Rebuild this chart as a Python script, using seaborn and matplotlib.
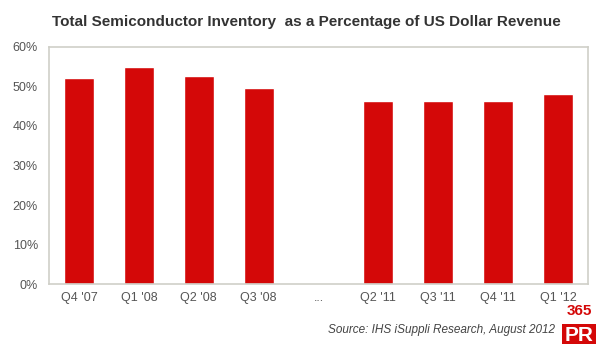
import numpy as np
import pandas as pd
import matplotlib
matplotlib.use("Agg")
import matplotlib.pyplot as plt
import seaborn as sns

categories = ["Q4 '07", "Q1 '08", "Q2 '08", "Q3 '08", "...", "Q2 '11", "Q3 '11", "Q4 '11", "Q1 '12"]
values = [52.1, 54.9, 52.7, 49.5, np.nan, 46.4, 46.4, 46.4, 48.0]
yticks = [0, 10, 20, 30, 40, 50, 60]

df = pd.DataFrame({"quarter": categories, "pct": values})

sns.set_theme(style="white")
plt.rcParams['font.family'] = ['Liberation Sans', 'DejaVu Sans']

fig = plt.figure(figsize=(6.0, 3.44), dpi=100)
ax = fig.add_axes([0.0817, 0.1744, 0.8983, 0.689])

sns.barplot(data=df, x="quarter", y="pct", order=categories, color="#d40808",
            saturation=1, width=0.5, ax=ax)

ax.set_ylim(0, 60)
ax.set_yticks(yticks)
ax.set_yticklabels([f"{t}%" for t in yticks])
ax.set_xlim(-0.5, len(categories) - 0.5)
ax.set_xlabel("")
ax.set_ylabel("")
ax.tick_params(axis="both", length=0, colors="#555555", labelsize=9)
ax.tick_params(axis="x", pad=6)
ax.tick_params(axis="y", pad=8)
for s in ax.spines.values():
    s.set_color("#cfcfc8")
    s.set_linewidth(1.2)

fig.text(0.51, 0.936, "Total Semiconductor Inventory  as a Percentage of US Dollar Revenue",
         ha="center", va="center", fontsize=11, fontweight="bold", color="#333333")
fig.text(0.925, 0.04, "Source: IHS iSuppli Research, August 2012", ha="right", va="center",
         fontsize=8.5, style="italic", color="#444444")
fig.text(0.965, 0.095, "365", ha="center", va="center", fontsize=11, fontweight="bold",
         color="#d40808")
fig.text(0.965, 0.025, "PR", ha="center", va="center", fontsize=15, fontweight="bold",
         color="white", bbox=dict(boxstyle="square,pad=0.1", fc="#d40808", ec="none"))

fig.savefig("out.png", dpi=100, facecolor="white")
